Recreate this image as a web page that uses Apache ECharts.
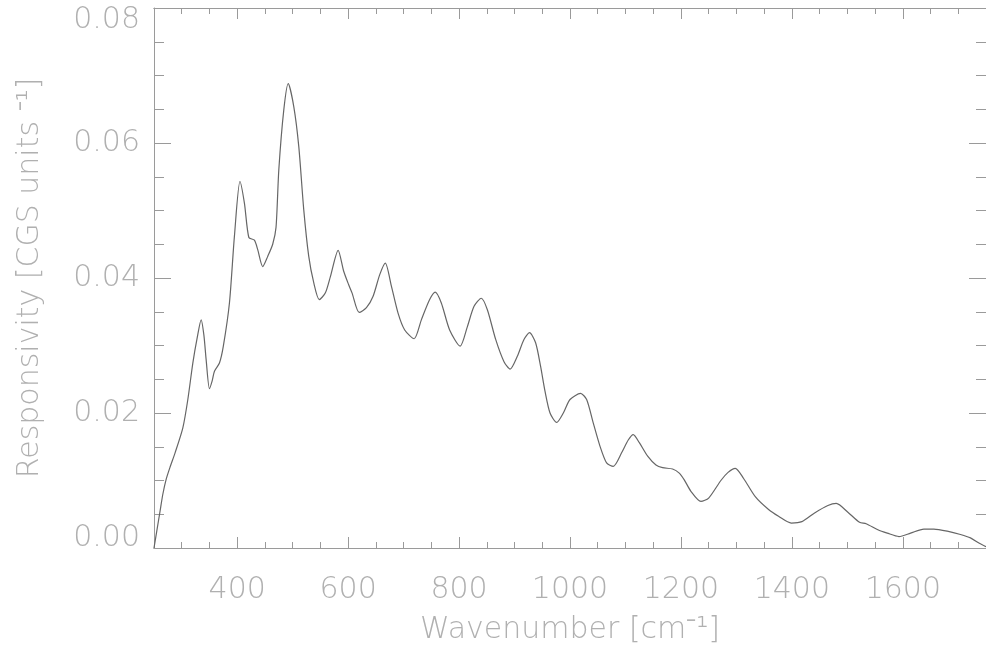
<!DOCTYPE html>
<html>
<head>
<meta charset="utf-8">
<script src="https://cdn.jsdelivr.net/npm/echarts@6/dist/echarts.min.js"></script>
<style>
html,body{margin:0;padding:0;background:#fff;}
#c{width:986px;height:650px;}
</style>
</head>
<body>
<div id="c"></div>
<script>
const wavenumber = [250,255,261,266,272,279,288,302,311,320,328,335,340,344,350,355,359,368,375,386,395,405,413,421,431,437,446,455,464,470,475,484,492,502,511,520,529,538,548,559,568,582,592,601,607,620,633,645,657,667,678,690,702,719,732,747,757,768,783,802,815,827,840,851,866,881,892,905,917,927,938,947,955,964,976,988,1000,1019,1030,1042,1054,1066,1078,1093,1105,1114,1125,1140,1155,1167,1185,1197,1206,1218,1236,1250,1272,1285,1298,1313,1334,1358,1376,1399,1418,1441,1465,1480,1501,1522,1534,1555,1572,1593,1614,1638,1656,1680,1704,1722,1738,1750];
const responsivity = [0,0.0025,0.0055,0.0080,0.0102,0.0120,0.0141,0.0178,0.0220,0.0274,0.0312,0.0338,0.0315,0.0279,0.0236,0.0248,0.0262,0.0274,0.0299,0.0363,0.0462,0.0543,0.0511,0.0460,0.0456,0.0442,0.0417,0.0432,0.0450,0.0475,0.0560,0.0649,0.0688,0.0654,0.0595,0.0501,0.0432,0.0393,0.0368,0.0378,0.0402,0.0441,0.0410,0.0390,0.0378,0.0349,0.0356,0.0373,0.0405,0.0422,0.0388,0.0348,0.0323,0.0310,0.0338,0.0368,0.0379,0.0363,0.0323,0.0299,0.0328,0.0358,0.0370,0.0353,0.0309,0.0276,0.0265,0.0284,0.0309,0.0319,0.0304,0.0269,0.0232,0.0200,0.0186,0.0200,0.0220,0.0229,0.0220,0.0185,0.0151,0.0126,0.0121,0.0141,0.0160,0.0168,0.0156,0.0136,0.0123,0.0119,0.0117,0.0111,0.0101,0.0084,0.0069,0.0074,0.0100,0.0112,0.0118,0.0103,0.0076,0.0057,0.0047,0.0037,0.0039,0.0052,0.0063,0.0066,0.0053,0.0038,0.0036,0.0027,0.0022,0.0017,0.0022,0.0028,0.0028,0.0025,0.0020,0.0015,0.0007,0.0002];
const xMajorTicks = [400,600,800,1000,1200,1400,1600];
const xAxisTitle = 'Wavenumber [cm\u207B\u00B9]';
const yAxisTitle = 'Responsivity [CGS units \u207B\u00B9]';

const axisColor = '#9a9a9a';
const textColor = '#b0b0b0';
const font = 'DejaVu Sans';
const fs = 30;

const chart = echarts.init(document.getElementById('c'), null, {renderer:'canvas'});
const baseX = {
  type:'value', min:250, max:1750, gridIndex:0,
  splitLine:{show:false},
  axisLine:{show:true, lineStyle:{color:axisColor, width:1}}
};
const lbl = {color:textColor, fontSize:fs, fontFamily:font, fontWeight:'lighter'};
chart.setOption({
  animation:false,
  backgroundColor:'#fff',
  grid:{left:154, right:-6, top:8, bottom:102, containLabel:false},
  xAxis:[
    Object.assign({}, baseX, {
      position:'bottom', interval:50,
      axisTick:{show:true, inside:true, length:6, lineStyle:{color:axisColor}},
      axisLabel:Object.assign({show:true, customValues:xMajorTicks, margin:27, formatter:v=>String(v)}, lbl),
      name:xAxisTitle, nameLocation:'middle', nameGap:67,
      nameTextStyle:Object.assign({}, lbl)
    }),
    Object.assign({}, baseX, {
      position:'bottom',
      axisTick:{show:true, inside:true, length:11, customValues:xMajorTicks, lineStyle:{color:axisColor}},
      axisLabel:{show:false}
    }),
    Object.assign({}, baseX, {
      position:'top', interval:50,
      axisTick:{show:true, inside:true, length:6, lineStyle:{color:axisColor}},
      axisLabel:{show:false}
    }),
    Object.assign({}, baseX, {
      position:'top',
      axisTick:{show:true, inside:true, length:11, customValues:xMajorTicks, lineStyle:{color:axisColor}},
      axisLabel:{show:false}
    })
  ],
  yAxis:[
    {
      type:'value', min:0, max:0.08, interval:0.02, position:'left',
      splitLine:{show:false},
      axisLine:{show:true, lineStyle:{color:axisColor}},
      axisTick:{show:true, inside:true, length:17, lineStyle:{color:axisColor}},
      minorTick:{show:true, splitNumber:4, length:10, lineStyle:{color:axisColor}},
      axisLabel:Object.assign({
        margin:14,
        formatter:v=>{
          const s = v.toFixed(2);
          if (v >= 0.08) return '{top|' + s + '}';
          if (v <= 0) return '{bot|' + s + '}';
          return s;
        },
        rich:{
          top:Object.assign({padding:[24,0,0,0]}, lbl),
          bot:Object.assign({padding:[0,0,20,0]}, lbl)
        }
      }, lbl),
      name:yAxisTitle, nameLocation:'middle', nameGap:109, nameRotate:90,
      nameTextStyle:Object.assign({}, lbl)
    },
    {
      type:'value', min:0, max:0.08, interval:0.02, position:'right',
      splitLine:{show:false},
      axisLine:{show:true, lineStyle:{color:axisColor}},
      axisTick:{show:true, inside:true, length:17, lineStyle:{color:axisColor}},
      minorTick:{show:true, splitNumber:4, length:10, lineStyle:{color:axisColor}},
      axisLabel:{show:false}
    }
  ],
  series:[{
    type:'line', xAxisIndex:0, yAxisIndex:0,
    data:wavenumber.map((w,i)=>[w, responsivity[i]]),
    showSymbol:false, smooth:0.25,
    lineStyle:{color:'#666666', width:1.2}
  }]
});
</script>
</body>
</html>
